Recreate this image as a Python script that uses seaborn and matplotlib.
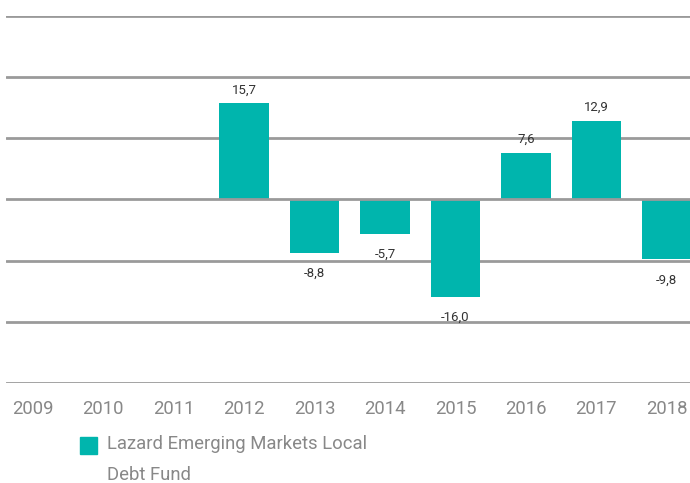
import numpy as np
import pandas as pd
import matplotlib
matplotlib.use('Agg')
import matplotlib.pyplot as plt
import seaborn as sns
from matplotlib.patches import Rectangle

sns.set_theme(style='white')
plt.rcParams['font.family'] = ['Roboto', 'DejaVu Sans']

# data
years = ['2009', '2010', '2011', '2012', '2013', '2014', '2015', '2016', '2017', '2018']
returns = [np.nan, np.nan, np.nan, 15.7, -8.8, -5.7, -16.0, 7.6, 12.9, -9.8]
series_name = 'Lazard Emerging Markets Local\nDebt Fund'

teal = '#00b5ad'
df = pd.DataFrame({'year': years, 'ret': returns})

fig = plt.figure(figsize=(6.9, 4.83), dpi=100)
ax = fig.add_axes([0.0087, 0.207, 0.9913, 0.76])

sns.barplot(data=df, x='year', y='ret', order=years, color=teal, width=0.7,
            saturation=1, ax=ax, zorder=2, edgecolor='none', linewidth=0)

ax.set_xlim(-0.38, 9.33)
ax.set_ylim(-30, 30)
for y in range(-30, 31, 10):
    ax.axhline(y, color='#9a9a9a', lw=2, zorder=1 if y != 0 else 3)

for i, v in enumerate(returns):
    if np.isnan(v):
        continue
    txt = f'{v:.1f}'.replace('.', ',')
    if v >= 0:
        ax.annotate(txt, (i, v), xytext=(0, 5), textcoords='offset points',
                    ha='center', va='bottom', fontsize=9.5, color='#333333')
    else:
        ax.annotate(txt, (i, v), xytext=(0, -10), textcoords='offset points',
                    ha='center', va='top', fontsize=9.5, color='#333333')

ax.set_yticks([])
ax.set_xlabel('')
ax.set_ylabel('')
ax.tick_params(axis='x', length=0, pad=12, labelsize=13.3, labelcolor='#888888')
sns.despine(ax=ax, left=True, bottom=True, top=True, right=True)

# legend drawn by hand
fig.patches.append(Rectangle((80 / 690, 1 - 454 / 483), 17 / 690, 17 / 483,
                             transform=fig.transFigure, color=teal))
fig.text(107 / 690, 1 - 444 / 483, 'Lazard Emerging Markets Local', fontsize=13.3,
         color='#888888', va='center', ha='left')
fig.text(107 / 690, 1 - 475 / 483, 'Debt Fund', fontsize=13.3,
         color='#888888', va='center', ha='left')

fig.savefig('out.png', dpi=100)
